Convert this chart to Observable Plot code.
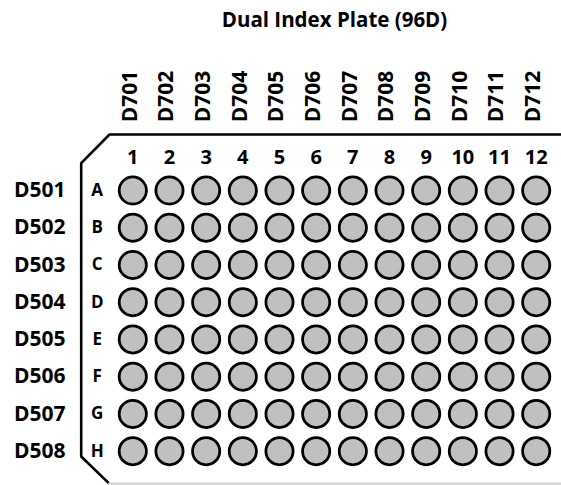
<!DOCTYPE html>
<html>
<head>
<meta charset="utf-8">
<script src="https://cdn.jsdelivr.net/npm/d3@7"></script>
<script src="https://cdn.jsdelivr.net/npm/@observablehq/plot@0.6"></script>
<style>
  html, body { margin: 0; padding: 0; background: #fff; overflow: hidden; }
  svg { display: block; }
</style>
</head>
<body>
<div id="chart"></div>
<script>
const title = "Dual Index Plate (96D)";
const columns = [1, 2, 3, 4, 5, 6, 7, 8, 9, 10, 11, 12];
const rows = ["A", "B", "C", "D", "E", "F", "G", "H"];
const colIndexes = ["D701", "D702", "D703", "D704", "D705", "D706", "D707", "D708", "D709", "D710", "D711", "D712"];
const rowIndexes = ["D501", "D502", "D503", "D504", "D505", "D506", "D507", "D508"];

const wells = rows.flatMap((r, ri) => columns.map(c => ({col: c, row: ri})));
const outline = [
  {x: 13.6, y: -1.504}, {x: 0.365, y: -1.504}, {x: -0.407, y: -0.733},
  {x: -0.407, y: 7.143}, {x: 0.365, y: 7.876}
];
const bottomEdge = [{x: 0.365, y: 7.876}, {x: 13.6, y: 7.876}];

const font = "'Open Sans', Lato, sans-serif";

const chart = Plot.plot({
  width: 561,
  height: 485,
  margin: 0,
  style: {fontFamily: font, background: "#fff"},
  x: {type: "linear", domain: [1, 12], range: [132.3, 535.7], axis: null},
  y: {type: "linear", domain: [0, 7], range: [190, 450.7], axis: null},
  marks: [
    Plot.line(outline, {x: "x", y: "y", stroke: "#000", strokeWidth: 2.6}),
    Plot.line(bottomEdge, {x: "x", y: "y", stroke: "#d9d9d9", strokeWidth: 3}),
    Plot.dot(wells, {x: "col", y: "row", r: 13.6, fill: "#c0c0c0", stroke: "#000", strokeWidth: 2.8}),
    Plot.text(columns, {x: d => d, y: -0.873, text: d => String(d), fontSize: 20, fontWeight: 700, fill: "#000"}),
    Plot.text(rows, {x: 0.03, y: (d, i) => i, text: d => d, fontSize: 17, fontWeight: 700, fill: "#000"}),
    Plot.text(rowIndexes, {x: -0.835, y: (d, i) => i, text: d => d, fontSize: 21, fontWeight: 700, textAnchor: "end", fill: "#000"}),
    Plot.text(colIndexes, {x: (d, i) => columns[i], y: -1.83, dx: -3, text: d => d, rotate: -90, textAnchor: "start", fontSize: 21, fontWeight: 700, fill: "#000"}),
    Plot.text([title], {x: 6.5, y: -4.57, text: d => d, fontSize: 20.5, fontWeight: 700, fill: "#000"})
  ]
});
document.getElementById("chart").appendChild(chart);
</script>
</body>
</html>
